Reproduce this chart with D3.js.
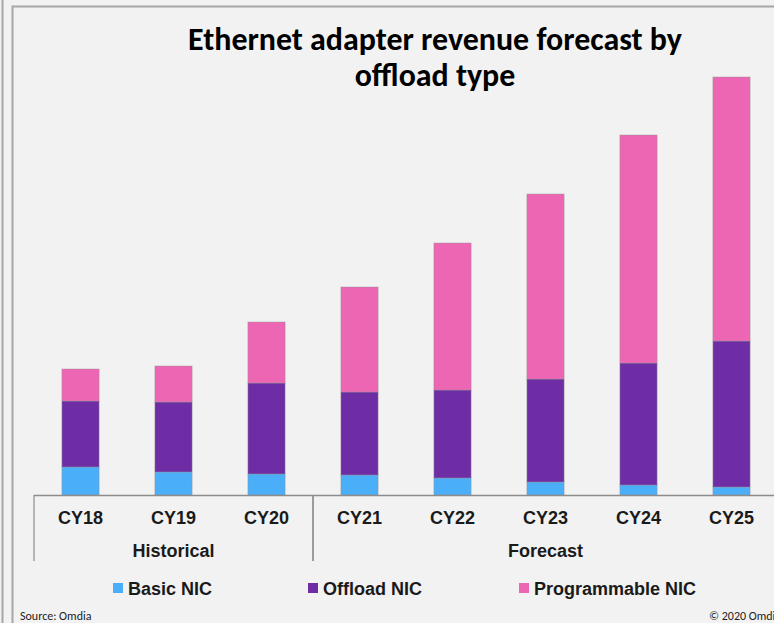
<!DOCTYPE html>
<html>
<head>
<meta charset="utf-8">
<script src="https://cdn.jsdelivr.net/npm/d3@7"></script>
<style>
  html, body { margin: 0; padding: 0; background: #f2f2f2; }
  svg { display: block; }
</style>
</head>
<body>
<div id="chart" style="width:774px;height:623px;"></div>
<script>
// values (no axis shown, arbitrary units)
const years = ["CY18", "CY19", "CY20", "CY21", "CY22", "CY23", "CY24", "CY25"];
const basicNIC = [280, 230, 210, 200, 170, 130, 100, 80];
const offloadNIC = [660, 700, 910, 830, 880, 1030, 1220, 1460];
const programmableNIC = [320, 360, 610, 1050, 1470, 1850, 2280, 2640];
const seriesNames = ["Basic NIC", "Offload NIC", "Programmable NIC"];
const groups = [
    {label: "Historical", from: "CY18", to: "CY20"},
    {label: "Forecast", from: "CY21", to: "CY25"}
];
const colors = ["#4aaef8", "#6e2ca5", "#ed66b4"];

const W = 774, H = 623;
const svg = d3.select("#chart").append("svg")
    .attr("width", W)
    .attr("height", H);

svg.append("rect").attr("width", W).attr("height", H).attr("fill", "#f2f2f2");

// frame lines
svg.append("line").attr("x1", 2.5).attr("x2", 2.5).attr("y1", 0).attr("y2", H)
    .attr("stroke", "#a6a6a6").attr("stroke-width", 2);
svg.append("path").attr("d", `M12.5,${H} V6.5 H${W + 5}`)
    .attr("fill", "none").attr("stroke", "#a6a6a6").attr("stroke-width", 2);

const data = years.map((y, i) => ({
    year: y,
    "Basic NIC": basicNIC[i],
    "Offload NIC": offloadNIC[i],
    "Programmable NIC": programmableNIC[i]
}));

const x = d3.scaleBand()
    .domain(years)
    .range([34, 778])
    .paddingInner(0.6)
    .paddingOuter(0.3);

const y = d3.scaleLinear()
    .domain([0, 4500])
    .range([495, 45]);

const stack = d3.stack().keys(seriesNames)(data);

svg.selectAll(".layer")
    .data(stack)
    .enter()
    .append("g")
    .attr("class", "layer")
    .attr("fill", (d, i) => colors[i])
    .selectAll("rect")
    .data(d => d)
    .enter()
    .append("rect")
    .attr("x", d => x(d.data.year))
    .attr("y", d => y(d[1]))
    .attr("width", x.bandwidth())
    .attr("height", d => y(d[0]) - y(d[1]))
    .attr("stroke", "rgba(150,150,150,0.45)")
    .attr("stroke-width", 1);

// category axis
const axisY = y(0);
svg.append("line")
    .attr("x1", 34).attr("x2", W + 5)
    .attr("y1", axisY + 0.5).attr("y2", axisY + 0.5)
    .attr("stroke", "#8c8c8c").attr("stroke-width", 1.5);

const step = x.step();
const bandStart = d => x(d) - x.paddingInner() * step / 2;
const bandEnd = d => bandStart(d) + step;

groups.forEach(g => {
    [bandStart(g.from), bandEnd(g.to)].forEach(px => {
        svg.append("line")
            .attr("x1", px).attr("x2", px)
            .attr("y1", axisY).attr("y2", 561)
            .attr("stroke", "#8c8c8c").attr("stroke-width", 1.2);
    });
    svg.append("text")
        .attr("x", (bandStart(g.from) + bandEnd(g.to)) / 2)
        .attr("y", 557)
        .attr("text-anchor", "middle")
        .style("font-family", "'Liberation Sans', Arial, sans-serif")
        .style("font-size", "18px")
        .style("font-weight", "bold")
        .attr("fill", "#1a1a1a")
        .text(g.label);
});

svg.selectAll(".tick-label")
    .data(years)
    .enter()
    .append("text")
    .attr("class", "tick-label")
    .attr("x", d => x(d) + x.bandwidth() / 2)
    .attr("y", 524)
    .attr("text-anchor", "middle")
    .style("font-family", "'Liberation Sans', Arial, sans-serif")
    .style("font-size", "18px")
    .style("font-weight", "bold")
    .attr("fill", "#1a1a1a")
    .text(d => d);

// title
const title = svg.append("text")
    .attr("text-anchor", "middle")
    .style("font-family", "Carlito, Calibri, 'Open Sans', sans-serif")
    .style("font-weight", "bold")
    .attr("fill", "#000");
title.append("tspan").attr("x", 435).attr("y", 50).text("Ethernet adapter revenue forecast by");
title.append("tspan").attr("x", 435).attr("y", 86).text("offload type");
// fit title width to the reference
let fs = 30;
title.style("font-size", fs + "px");
const w1 = title.select("tspan").node().getComputedTextLength();
fs = fs * 494 / w1;
title.style("font-size", fs + "px");

// legend
const legendX = [113, 308, 519];
const legend = svg.selectAll(".legend")
    .data(seriesNames)
    .enter()
    .append("g")
    .attr("class", "legend")
    .attr("transform", (d, i) => `translate(${legendX[i]}, 583)`);
legend.append("rect")
    .attr("width", 10).attr("height", 10)
    .attr("fill", (d, i) => colors[i]);
legend.append("text")
    .attr("x", 15)
    .attr("y", 12)
    .style("font-family", "'Liberation Sans', Arial, sans-serif")
    .style("font-size", "18px")
    .style("font-weight", "bold")
    .attr("fill", "#1a1a1a")
    .text(d => d);

// footer
svg.append("text")
    .attr("x", 20).attr("y", 620)
    .style("font-family", "Carlito, Calibri, 'Open Sans', sans-serif")
    .style("font-size", "12px")
    .attr("fill", "#222")
    .text("Source: Omdia");
svg.append("text")
    .attr("x", 709).attr("y", 620)
    .style("font-family", "Carlito, Calibri, 'Open Sans', sans-serif")
    .style("font-size", "12px")
    .attr("fill", "#222")
    .text("© 2020 Omdia");
</script>
</body>
</html>
